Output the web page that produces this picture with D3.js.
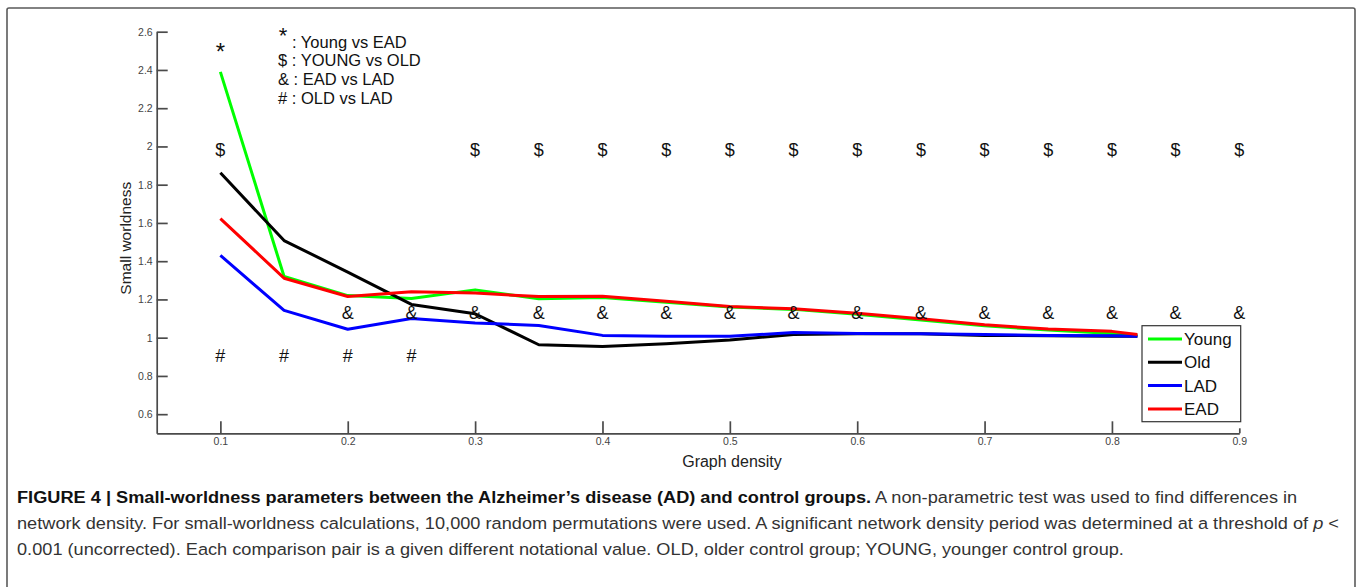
<!DOCTYPE html>
<html>
<head>
<meta charset="utf-8">
<script src="https://cdn.jsdelivr.net/npm/d3@7"></script>
<style>
    body { margin: 0; background: #fff; }
    text { font-family: "Liberation Sans", Arial, sans-serif; white-space: pre; }
</style>
</head>
<body>
<div id="container"></div>
<script>
// graph density values (x)
const density = [0.1, 0.15, 0.2, 0.25, 0.3, 0.35, 0.4, 0.45, 0.5, 0.55, 0.6, 0.65, 0.7, 0.75, 0.8, 0.82];

// small worldness per group
const young = [2.39, 1.32, 1.22, 1.205, 1.25, 1.204, 1.21, 1.185, 1.16, 1.148, 1.122, 1.093, 1.062, 1.04, 1.022, 1.012];
const old   = [1.862, 1.508, 1.343, 1.174, 1.125, 0.963, 0.954, 0.968, 0.988, 1.017, 1.02, 1.02, 1.012, 1.01, 1.008, 1.007];
const lad   = [1.43, 1.143, 1.044, 1.10, 1.077, 1.064, 1.012, 1.008, 1.007, 1.027, 1.022, 1.02, 1.017, 1.012, 1.01, 1.008];
const ead   = [1.623, 1.311, 1.215, 1.24, 1.233, 1.215, 1.217, 1.191, 1.163, 1.151, 1.128, 1.099, 1.067, 1.045, 1.033, 1.017];

const seriesNames = ['Young', 'Old', 'LAD', 'EAD'];
const seriesColors = ['#00ff00', '#000000', '#0000ff', '#ff0000'];

// significance markers: where they sit on x, and their level on y
const starX = [0.1];
const dollarX = [0.1, 0.3, 0.35, 0.4, 0.45, 0.5, 0.55, 0.6, 0.65, 0.7, 0.75, 0.8, 0.85, 0.9];
const ampX = [0.2, 0.25, 0.3, 0.35, 0.4, 0.45, 0.5, 0.55, 0.6, 0.65, 0.7, 0.75, 0.8, 0.85, 0.9];
const hashX = [0.1, 0.15, 0.2, 0.25];
const markerSymbols = ['*', '$', '&', '#'];
const markerLevels = [2.53, 1.98, 1.127, 0.904];

// ticks
const xTicks = [0.1, 0.2, 0.3, 0.4, 0.5, 0.6, 0.7, 0.8, 0.9];
const yTicks = [0.6, 0.8, 1, 1.2, 1.4, 1.6, 1.8, 2, 2.2, 2.4, 2.6];

// key text at top
const keyLines = ['$ : YOUNG vs OLD', '& : EAD vs LAD', '# : OLD vs LAD'];

// caption
const captionBold = 'FIGURE 4 | Small-worldness parameters between the Alzheimer\u2019s disease (AD) and control groups.';
const captionRest1 = ' A non-parametric test was used to find differences in';
const captionLine2 = 'network density. For small-worldness calculations, 10,000 random permutations were used. A significant network density period was determined at a threshold of ';
const captionLine3 = '0.001 (uncorrected). Each comparison pair is a given different notational value. OLD, older control group; YOUNG, younger control group.';

// svg dimensions
const w = 1358;
const h = 587;

const svg = d3.select('#container')
    .append('svg')
    .attr('width', w)
    .attr('height', h);

// outer frame
svg.append('rect')
    .attr('x', 7)
    .attr('y', 8)
    .attr('width', 1348)
    .attr('height', 640)
    .attr('rx', 2)
    .attr('fill', 'none')
    .attr('stroke', '#5a5a5a')
    .attr('stroke-width', 1.6);

// scales
const xScale = d3.scaleLinear()
    .domain([0.05, 0.9])
    .range([156.7, 1239.3]);

const yScale = d3.scaleLinear()
    .domain([0.5, 2.6])
    .range([433.3, 31.7]);

// axes (ticks point inward, matlab style)
const xAxis = d3.axisBottom(xScale)
    .tickValues(xTicks)
    .tickFormat(d => d)
    .tickSizeInner(-12)
    .tickSizeOuter(0)
    .tickPadding(4);

const yAxis = d3.axisLeft(yScale)
    .tickValues(yTicks)
    .tickFormat(d => d)
    .tickSizeInner(-11)
    .tickSizeOuter(0)
    .tickPadding(4);

const gx = svg.append('g')
    .attr('transform', `translate(0, ${yScale(0.5)})`)
    .attr('id', 'x-axis')
    .call(xAxis);

const gy = svg.append('g')
    .attr('transform', `translate(${xScale(0.05)}, 0)`)
    .attr('id', 'y-axis')
    .call(yAxis);

[gx, gy].forEach(g => {
    g.select('.domain').attr('stroke', '#4a4a4a').attr('stroke-width', 1.7);
    g.selectAll('.tick line').attr('stroke', '#4a4a4a').attr('stroke-width', 1.7);
    g.selectAll('.tick text')
        .attr('fill', '#444')
        .style('font-size', '10.5px');
});

// last x tick is short
gx.selectAll('.tick').filter(d => d === 0.9).select('line').attr('y2', -5);

// axis titles
svg.append('text')
    .attr('x', 732)
    .attr('y', 467)
    .attr('text-anchor', 'middle')
    .attr('fill', '#222')
    .style('font-size', '16px')
    .text('Graph density');

svg.append('text')
    .attr('transform', `translate(131, ${yScale(1.52)}) rotate(-90)`)
    .attr('text-anchor', 'middle')
    .attr('fill', '#222')
    .style('font-size', '15.5px')
    .text('Small worldness');

// series lines
const seriesData = [young, old, lad, ead];
const line = d3.line()
    .x((d, i) => xScale(density[i]))
    .y(d => yScale(d));

svg.append('g')
    .selectAll('path')
    .data(seriesData)
    .join('path')
    .attr('d', d => line(d))
    .attr('fill', 'none')
    .attr('stroke', (d, i) => seriesColors[i])
    .attr('stroke-width', 3)
    .attr('stroke-linejoin', 'round');

// significance markers
const markerX = [starX, dollarX, ampX, hashX];
markerX.forEach((xs, k) => {
    const star = markerSymbols[k] === '*';
    svg.append('g')
        .selectAll('text')
        .data(xs)
        .join('text')
        .attr('x', d => xScale(d))
        .attr('y', yScale(markerLevels[k]) + (star ? 6 : 0))
        .attr('text-anchor', 'middle')
        .attr('dominant-baseline', 'central')
        .attr('fill', '#111')
        .style('font-size', star ? '24px' : '18px')
        .text(markerSymbols[k]);
});

// key at top of plot
const key = svg.append('g').attr('fill', '#111').style('font-size', '16.5px');
key.append('text').attr('x', 283).attr('y', 43).attr('text-anchor', 'middle').style('font-size', '22px').text('*');
key.append('text').attr('x', 292).attr('y', 48).text(': Young vs EAD');
key.selectAll('text.kl')
    .data(keyLines)
    .join('text')
    .attr('class', 'kl')
    .attr('x', 278)
    .attr('y', (d, i) => 66 + i * 19)
    .text(d => d);

// legend box
const legend = svg.append('g');
legend.append('rect')
    .attr('x', 1142)
    .attr('y', 325.7)
    .attr('width', 98.7)
    .attr('height', 96)
    .attr('fill', '#fff')
    .attr('stroke', '#333')
    .attr('stroke-width', 1.2);

seriesNames.forEach((name, i) => {
    const ly = 339 + i * 23.3;
    legend.append('line')
        .attr('x1', 1148).attr('x2', 1182)
        .attr('y1', ly).attr('y2', ly)
        .attr('stroke', seriesColors[i])
        .attr('stroke-width', 3);
    legend.append('text')
        .attr('x', 1184)
        .attr('y', ly + 6)
        .attr('fill', '#111')
        .style('font-size', '17px')
        .text(name);
});

// caption lines
const cap = svg.append('g').attr('fill', '#333').style('font-size', '17px');
const c1 = cap.append('text').attr('y', 503);
c1.append('tspan').attr('font-weight', 'bold').attr('fill', '#111').text(captionBold);
c1.append('tspan').text(captionRest1);
const c2 = cap.append('text').attr('y', 529);
c2.append('tspan').text(captionLine2);
c2.append('tspan').attr('font-style', 'italic').text('p');
c2.append('tspan').text(' <');
const c3 = cap.append('text').attr('y', 555).text(captionLine3);

// squeeze caption to the width of the original lines
const k = 1323 / c2.node().getComputedTextLength();
[c1, c2, c3].forEach(t => t.attr('transform', `translate(17, 0) scale(${k}, 1)`));
</script>
</body>
</html>
